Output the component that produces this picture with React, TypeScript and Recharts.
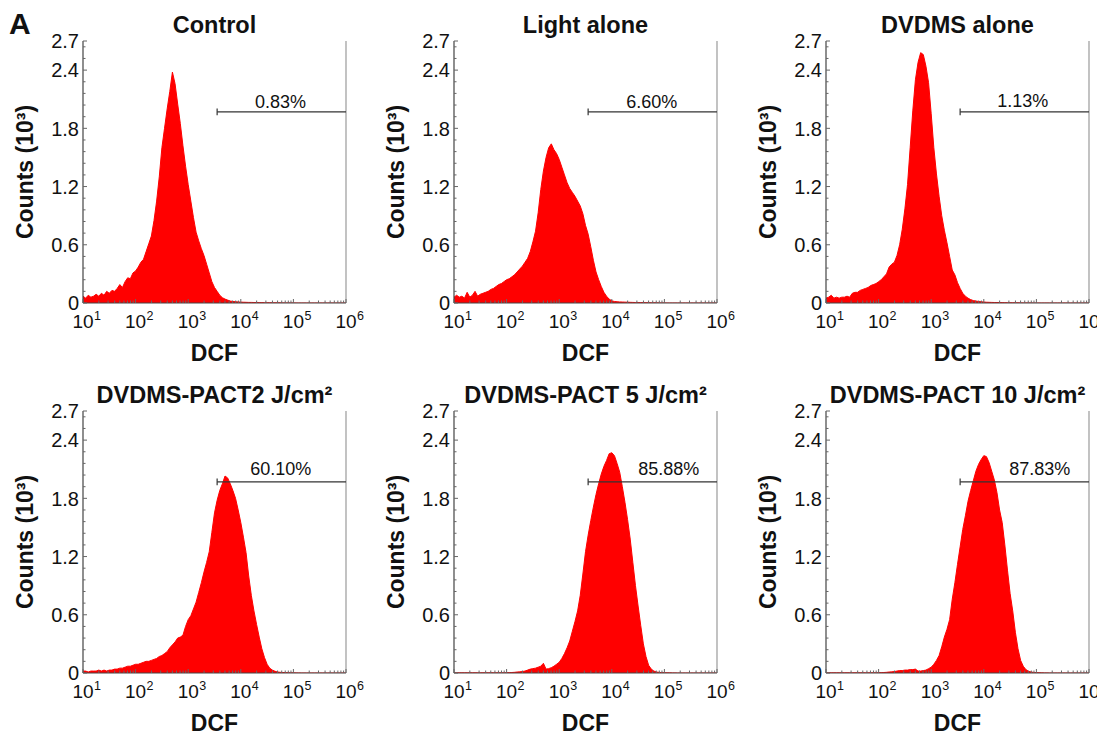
import React from 'react';
import { AreaChart, Area, XAxis, YAxis, ReferenceLine, ReferenceDot } from 'recharts';

// log10(DCF) channel positions
const DCF_LOG = [
  1.00, 1.05, 1.10, 1.15, 1.20, 1.25, 1.30, 1.35, 1.40, 1.45,
  1.50, 1.55, 1.60, 1.65, 1.70, 1.75, 1.80, 1.85, 1.90, 1.95,
  2.00, 2.05, 2.10, 2.15, 2.20, 2.25, 2.30, 2.35, 2.40, 2.45,
  2.50, 2.55, 2.60, 2.65, 2.70, 2.75, 2.80, 2.85, 2.90, 2.95,
  3.00, 3.05, 3.10, 3.15, 3.20, 3.25, 3.30, 3.35, 3.40, 3.45,
  3.50, 3.55, 3.60, 3.65, 3.70, 3.75, 3.80, 3.85, 3.90, 3.95,
  4.00, 4.05, 4.10, 4.15, 4.20, 4.25, 4.30, 4.35, 4.40, 4.45,
  4.50, 4.55, 4.60, 4.65, 4.70, 4.75, 4.80, 4.85, 4.90, 4.95,
  5.00, 5.05, 5.10, 5.15, 5.20, 5.25, 5.30, 5.35, 5.40, 5.45,
  5.50, 5.55, 5.60, 5.65, 5.70, 5.75, 5.80, 5.85, 5.90, 5.95,
  6.00,
];

// Counts (10^3)
const CONTROL = [
  0.07, 0.05, 0.08, 0.06, 0.07, 0.09, 0.07, 0.10, 0.08, 0.12,
  0.10, 0.13, 0.12, 0.15, 0.19, 0.16, 0.22, 0.26, 0.25, 0.31,
  0.33, 0.37, 0.42, 0.45, 0.53, 0.61, 0.69, 0.85, 1.05, 1.30,
  1.60, 1.80, 2.00, 2.18, 2.38, 2.26, 2.05, 1.85, 1.62, 1.41,
  1.22, 1.05, 0.88, 0.73, 0.64, 0.56, 0.49, 0.40, 0.31, 0.22,
  0.16, 0.12, 0.08, 0.055, 0.04, 0.03, 0.02, 0.016, 0.013, 0.011,
  0.009, 0.008, 0.007, 0.006, 0.006, 0.005, 0.005, 0.004, 0.004, 0.003,
  0.003, 0.003, 0.002, 0.002, 0.002, 0.002, 0.001, 0.001, 0.001, 0.001,
  0.001, 0, 0, 0, 0, 0, 0, 0, 0, 0,
  0, 0, 0, 0, 0, 0, 0, 0, 0, 0,
  0,
];

const LIGHT_ALONE = [
  0.06, 0.08, 0.06, 0.07, 0.05, 0.11, 0.06, 0.08, 0.12, 0.07,
  0.09, 0.10, 0.11, 0.12, 0.14, 0.15, 0.17, 0.19, 0.20, 0.22,
  0.24, 0.25, 0.27, 0.29, 0.32, 0.35, 0.38, 0.42, 0.46, 0.53,
  0.63, 0.74, 0.93, 1.17, 1.36, 1.50, 1.60, 1.64, 1.58, 1.54,
  1.48, 1.40, 1.32, 1.24, 1.18, 1.14, 1.10, 1.05, 1.00, 0.92,
  0.80, 0.71, 0.58, 0.44, 0.32, 0.24, 0.17, 0.11, 0.07, 0.04,
  0.022, 0.016, 0.013, 0.011, 0.010, 0.009, 0.008, 0.007, 0.006, 0.005,
  0.005, 0.004, 0.004, 0.003, 0.003, 0.002, 0.002, 0.002, 0.001, 0.001,
  0.001, 0, 0, 0, 0, 0, 0, 0, 0, 0,
  0, 0, 0, 0, 0, 0, 0, 0, 0, 0,
  0,
];

const DVDMS_ALONE = [
  0.05, 0.06, 0.08, 0.05, 0.06, 0.05, 0.06, 0.06, 0.07, 0.06,
  0.10, 0.11, 0.11, 0.13, 0.14, 0.15, 0.16, 0.18, 0.19, 0.20,
  0.22, 0.24, 0.27, 0.30, 0.37, 0.40, 0.42, 0.49, 0.60, 0.76,
  0.97, 1.22, 1.60, 1.98, 2.30, 2.48, 2.58, 2.56, 2.44, 2.27,
  1.95, 1.60, 1.33, 1.10, 0.90, 0.75, 0.62, 0.48, 0.34, 0.29,
  0.21, 0.15, 0.10, 0.07, 0.05, 0.035, 0.025, 0.02, 0.016, 0.013,
  0.010, 0.008, 0.007, 0.006, 0.005, 0.005, 0.004, 0.004, 0.003, 0.003,
  0.003, 0.002, 0.002, 0.002, 0.001, 0.001, 0.001, 0.001, 0.001, 0,
  0, 0, 0, 0, 0, 0, 0, 0, 0, 0,
  0, 0, 0, 0, 0, 0, 0, 0, 0, 0,
  0,
];

const PACT_2 = [
  0.02, 0.02, 0.01, 0.02, 0.02, 0.02, 0.03, 0.02, 0.03, 0.02,
  0.03, 0.03, 0.04, 0.04, 0.05, 0.05, 0.06, 0.07, 0.07, 0.08,
  0.09, 0.09, 0.10, 0.11, 0.12, 0.12, 0.13, 0.14, 0.15, 0.17,
  0.18, 0.20, 0.22, 0.26, 0.29, 0.32, 0.36, 0.37, 0.39, 0.48,
  0.55, 0.59, 0.66, 0.73, 0.83, 0.93, 1.04, 1.14, 1.25, 1.45,
  1.65, 1.78, 1.88, 1.95, 2.03, 2.01, 1.95, 1.88, 1.80, 1.68,
  1.55, 1.40, 1.24, 1.00, 0.80, 0.64, 0.50, 0.37, 0.25, 0.16,
  0.09, 0.05, 0.03, 0.018, 0.01, 0.007, 0.005, 0.004, 0.003, 0.002,
  0.002, 0.001, 0.001, 0, 0, 0, 0, 0, 0, 0,
  0, 0, 0, 0, 0, 0, 0, 0, 0, 0,
  0,
];

const PACT_5 = [
  0.002, 0.002, 0.002, 0.002, 0.002, 0.002, 0.002, 0.002, 0.002, 0.002,
  0.002, 0.002, 0.002, 0.002, 0.002, 0.002, 0.002, 0.002, 0.002, 0.002,
  0.003, 0.004, 0.005, 0.007, 0.010, 0.012, 0.015, 0.020, 0.030, 0.040,
  0.045, 0.050, 0.060, 0.070, 0.100, 0.040, 0.045, 0.055, 0.070, 0.090,
  0.11, 0.15, 0.20, 0.26, 0.33, 0.43, 0.53, 0.64, 0.80, 1.02,
  1.25, 1.42, 1.57, 1.71, 1.84, 1.95, 2.05, 2.13, 2.19, 2.26,
  2.27, 2.24, 2.16, 2.07, 1.92, 1.76, 1.58, 1.38, 1.14, 0.90,
  0.69, 0.49, 0.30, 0.17, 0.08, 0.04, 0.02, 0.01, 0.006, 0.004,
  0.003, 0.002, 0.002, 0.001, 0.001, 0, 0, 0, 0, 0,
  0, 0, 0, 0, 0, 0, 0, 0, 0, 0,
  0,
];

const PACT_10 = [
  0.002, 0.002, 0.002, 0.002, 0.002, 0.002, 0.002, 0.002, 0.002, 0.002,
  0.002, 0.002, 0.002, 0.002, 0.002, 0.002, 0.002, 0.002, 0.002, 0.002,
  0.003, 0.004, 0.005, 0.007, 0.010, 0.012, 0.015, 0.020, 0.025, 0.025,
  0.030, 0.030, 0.035, 0.035, 0.040, 0.020, 0.020, 0.025, 0.030, 0.045,
  0.06, 0.09, 0.13, 0.18, 0.27, 0.37, 0.45, 0.55, 0.76, 0.93,
  1.12, 1.30, 1.48, 1.62, 1.77, 1.88, 1.98, 2.08, 2.15, 2.20,
  2.24, 2.23, 2.17, 2.08, 1.99, 1.86, 1.68, 1.55, 1.32, 1.06,
  0.82, 0.64, 0.42, 0.25, 0.13, 0.07, 0.035, 0.018, 0.010, 0.006,
  0.004, 0.003, 0.002, 0.001, 0.001, 0, 0, 0, 0, 0,
  0, 0, 0, 0, 0, 0, 0, 0, 0, 0,
  0,
];

const SERIES = [CONTROL, LIGHT_ALONE, DVDMS_ALONE, PACT_2, PACT_5, PACT_10];
const TITLES = ['Control', 'Light alone', 'DVDMS alone', 'DVDMS-PACT2 J/cm²', 'DVDMS-PACT 5 J/cm²', 'DVDMS-PACT 10 J/cm²'];
const GATE_TEXT = ['0.83%', '6.60%', '1.13%', '60.10%', '85.88%', '87.83%'];
const GATE_TEXT_X = [4.755, 4.76, 4.74, 4.76, 5.085, 5.065];
const GATE_TEXT_Y = [2.01, 2.01, 2.02, 2.04, 2.04, 2.04];
const GATE_START = 3.55;
const GATE_END = 6;
const GATE_LEVEL = 1.97;

// axis ticks
const X_DECADES = [1, 2, 3, 4, 5, 6];
const X_MINOR_OFFSETS = [0.301, 0.477, 0.602, 0.699, 0.778, 0.845, 0.903, 0.954];
const X_TICKS: number[] = [];
X_DECADES.forEach((d) => {
  X_TICKS.push(d);
  if (d < 6) X_MINOR_OFFSETS.forEach((o) => X_TICKS.push(d + o));
});
const Y_LABELED = [0, 0.6, 1.2, 1.8, 2.4, 2.7];
const Y_MINOR = [0.12, 0.24, 0.36, 0.48, 0.72, 0.84, 0.96, 1.08, 1.32, 1.44, 1.56, 1.68, 1.92, 2.04, 2.16, 2.28, 2.52, 2.64];
const Y_TICKS = [...Y_LABELED, ...Y_MINOR].sort((a, b) => a - b);

// layout
const FONT = '"Liberation Sans", Arial, sans-serif';
const PLOT_W = 263;
const PLOT_H = 262;
const COL_X = [83, 454, 826];
const ROW_Y = [41, 411];
const ML = 75, MT = 10, MR = 28, MB = 40;

const XTick = (props: any) => {
  const { x, y, payload } = props;
  const v = payload.value;
  const major = Math.abs(v - Math.round(v)) < 1e-6;
  return (
    <g>
      <line x1={x} x2={x} y1={y} y2={y - (major ? 4 : 2.5)} stroke="#666" strokeWidth={1} />
      {major && (
        <g fontFamily={FONT} fill="#111">
          <text x={x} y={y + 25} textAnchor="middle" fontSize={19}>10</text>
          <text x={x + 11} y={y + 17} textAnchor="start" fontSize={12.5}>{String(Math.round(v))}</text>
        </g>
      )}
    </g>
  );
};

const YTick = (props: any) => {
  const { x, y, payload } = props;
  const v = payload.value;
  const major = Y_LABELED.includes(v);
  return (
    <g>
      <line x1={x} x2={x + (major ? 4 : 2.5)} y1={y} y2={y} stroke="#666" strokeWidth={1} />
      {major && (
        <text x={x - 4} y={y} dy="0.36em" textAnchor="end" fontSize={20} fontFamily={FONT} fill="#111">
          {v === 0 ? '0' : v.toFixed(1)}
        </text>
      )}
    </g>
  );
};

function Panel({ idx }: { idx: number }) {
  const left = COL_X[idx % 3];
  const top = ROW_Y[Math.floor(idx / 3)];
  const values = SERIES[idx];
  const data = DCF_LOG.map((x, i) => ({ x, y: values[i] }));
  return (
    <div style={{ position: 'absolute', left: left - ML, top: top - MT }}>
      <AreaChart
        width={PLOT_W + ML + MR}
        height={PLOT_H + MT + MB}
        data={data}
        margin={{ top: MT, right: MR, bottom: 0, left: 0 }}
      >
        <Area
          type="linear"
          dataKey="y"
          stroke="#ff0000"
          strokeWidth={1}
          fill="#ff0000"
          fillOpacity={1}
          dot={false}
          activeDot={false}
          isAnimationActive={false}
        />
        <ReferenceLine x={6} stroke="#9a9a9a" strokeWidth={1.2} />
        <ReferenceLine
          segment={[{ x: GATE_START, y: GATE_LEVEL }, { x: GATE_END, y: GATE_LEVEL }]}
          stroke="#333"
          strokeWidth={1.2}
        />
        <ReferenceLine
          segment={[{ x: GATE_START, y: GATE_LEVEL - 0.035 }, { x: GATE_START, y: GATE_LEVEL + 0.035 }]}
          stroke="#333"
          strokeWidth={1.2}
        />
        <ReferenceDot
          x={GATE_TEXT_X[idx]}
          y={GATE_TEXT_Y[idx]}
          r={0}
          shape={(p: any) => (
            <text x={p.cx} y={p.cy} textAnchor="middle" fontSize={18} fontFamily={FONT} fill="#111">
              {GATE_TEXT[idx]}
            </text>
          )}
        />
        <XAxis
          type="number"
          dataKey="x"
          domain={[1, 6]}
          ticks={X_TICKS}
          interval={0}
          tickSize={0}
          tickMargin={0}
          height={MB}
          axisLine={{ stroke: '#444', strokeWidth: 1.2 }}
          tick={XTick}
          allowDataOverflow
        />
        <YAxis
          type="number"
          domain={[0, 2.7]}
          ticks={Y_TICKS}
          interval={0}
          tickSize={0}
          tickMargin={0}
          width={ML}
          axisLine={{ stroke: '#444', strokeWidth: 1.2 }}
          tick={YTick}
          allowDataOverflow
        />
      </AreaChart>
    </div>
  );
}

export default function App() {
  const panels = [0, 1, 2, 3, 4, 5];
  return (
    <div
      style={{
        position: 'absolute',
        left: 0,
        top: 0,
        width: 1097,
        height: 732,
        overflow: 'hidden',
        background: '#fff',
      }}
    >
      {panels.map((i) => (
        <Panel key={i} idx={i} />
      ))}
      <svg
        width={1097}
        height={732}
        style={{ position: 'absolute', left: 0, top: 0, pointerEvents: 'none' }}
        fontFamily={FONT}
        fontWeight="bold"
        fill="#111"
      >
        <text x={9} y={34} fontSize={30}>A</text>
        {panels.map((i) => {
          const left = COL_X[i % 3];
          const top = ROW_Y[Math.floor(i / 3)];
          const cx = left + PLOT_W / 2;
          const cy = top + PLOT_H / 2;
          return (
            <g key={i}>
              <text x={cx} y={top - 8} textAnchor="middle" fontSize={23.5}>{TITLES[i]}</text>
              <text x={cx} y={top + PLOT_H + 58} textAnchor="middle" fontSize={23}>DCF</text>
              <text
                x={left - 50}
                y={cy}
                textAnchor="middle"
                fontSize={23}
                transform={`rotate(-90 ${left - 50} ${cy})`}
              >
                Counts (10³)
              </text>
            </g>
          );
        })}
      </svg>
    </div>
  );
}
